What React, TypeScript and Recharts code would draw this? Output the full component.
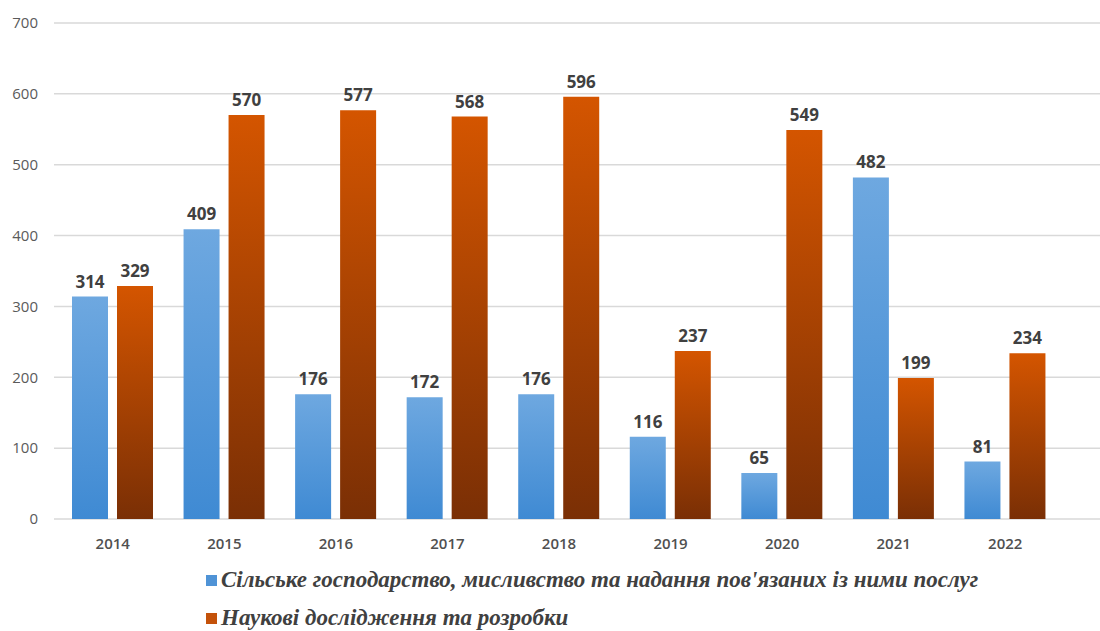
import React from "react";
import { BarChart, Bar, XAxis, YAxis, CartesianGrid, LabelList, Legend } from "recharts";

const years = ["2014", "2015", "2016", "2017", "2018", "2019", "2020", "2021", "2022"];
const agriculture = [314, 409, 176, 172, 176, 116, 65, 482, 81];
const research = [329, 570, 577, 568, 596, 237, 549, 199, 234];
const yTicks = [0, 100, 200, 300, 400, 500, 600, 700];
const seriesNames = [
  "Сільське господарство, мисливство та надання пов'язаних із ними послуг",
  "Наукові дослідження та розробки",
];
const legendColors = ["#4f93d6", "#c4520a"];

const data = years.map((y, i) => ({ year: y, a: agriculture[i], b: research[i] }));

const renderLegend = () => (
  <div style={{ display: "flex", flexDirection: "column", gap: 10 }}>
    {seriesNames.map((n, i) => (
      <div key={n} style={{ display: "flex", alignItems: "center", height: 28 }}>
        <span style={{ display: "inline-block", width: 11, height: 11, background: legendColors[i], marginRight: 4 }} />
        <span
          style={{
            fontFamily: "Liberation Serif",
            fontStyle: "italic",
            fontWeight: "bold",
            fontSize: 23,
            color: "#404040",
            whiteSpace: "nowrap",
          }}
        >
          {n}
        </span>
      </div>
    ))}
  </div>
);

export default function App() {
  return (
    <div style={{ position: "absolute", left: 0, top: 0, width: 1100, height: 631, background: "#fff" }}>
      <BarChart
        width={1100}
        height={631}
        data={data}
        margin={{ top: 23, right: 0, bottom: 82, left: 0 }}
        barSize={36}
        barGap={9}
      >
        <defs>
          <linearGradient id="gBlue" x1="0" y1="0" x2="0" y2="1">
            <stop offset="0%" stopColor="#6ea8e0" />
            <stop offset="100%" stopColor="#3f8ad3" />
          </linearGradient>
          <linearGradient id="gOrange" x1="0" y1="0" x2="0" y2="1">
            <stop offset="0%" stopColor="#d45500" />
            <stop offset="100%" stopColor="#7a2f05" />
          </linearGradient>
        </defs>
        <CartesianGrid vertical={false} stroke="#d9d9d9" strokeWidth={1.5} />
        <XAxis
          dataKey="year"
          axisLine={false}
          tickLine={false}
          tickMargin={13}
          height={30}
          padding={{ left: 3, right: 39 }}
          tick={{ fill: "#505050", fontSize: 15, fontWeight: 600, fontFamily: "'Open Sans', sans-serif" }}
        />
        <YAxis
          domain={[0, 700]}
          ticks={yTicks}
          width={54}
          axisLine={false}
          tickLine={false}
          tickMargin={10}
          fontSize={15}
          tick={{ fill: "#5a5a5a", fontSize: 15, fontFamily: "'Open Sans', sans-serif" }}
        />
        <Legend
          layout="horizontal"
          verticalAlign="middle"
          align="center"
          content={renderLegend}
          wrapperStyle={{ top: 566, left: 206, width: 890, bottom: "auto" }}
        />
        <Bar dataKey="a" name={seriesNames[0]} fill="url(#gBlue)" isAnimationActive={false}>
          <LabelList
            dataKey="a"
            position="top"
            offset={9}
            fill="#404040"
            fontSize={17}
            fontWeight="bold"
            fontFamily="'Open Sans', sans-serif"
          />
        </Bar>
        <Bar dataKey="b" name={seriesNames[1]} fill="url(#gOrange)" isAnimationActive={false}>
          <LabelList
            dataKey="b"
            position="top"
            offset={9}
            fill="#404040"
            fontSize={17}
            fontWeight="bold"
            fontFamily="'Open Sans', sans-serif"
          />
        </Bar>
      </BarChart>
    </div>
  );
}
